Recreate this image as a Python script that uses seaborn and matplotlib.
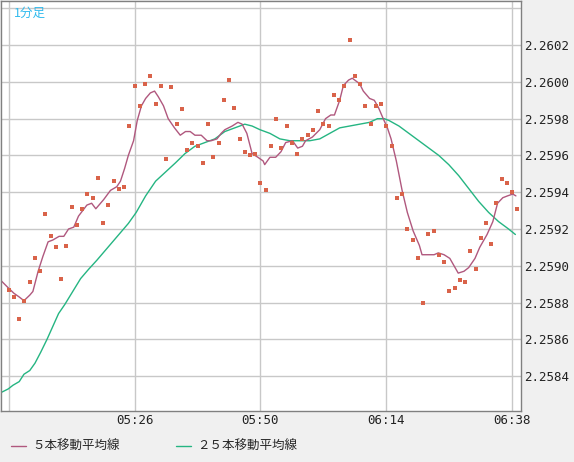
import matplotlib
matplotlib.use("Agg")
import matplotlib.pyplot as plt
import seaborn as sns
import numpy as np
import pandas as pd

sns.set_style("white")
plt.rcParams['font.family'] = ['Noto Sans CJK JP', 'DejaVu Sans']

# minutes since 05:02, one close per minute
close_prices = [
    2.25887, 2.25883, 2.25871, 2.25881, 2.25891, 2.25904, 2.25897, 2.25928, 2.25916, 2.25910,
    2.25893, 2.25911, 2.25932, 2.25922, 2.25931, 2.25939, 2.25937, 2.25948, 2.25923, 2.25933,
    2.25946, 2.25942, 2.25943, 2.25976, 2.25998, 2.25987, 2.25999, 2.26003, 2.25988, 2.25998,
    2.25958, 2.25997, 2.25977, 2.25985, 2.25963, 2.25967, 2.25965, 2.25956, 2.25977, 2.25959,
    2.25967, 2.25990, 2.26001, 2.25986, 2.25969, 2.25962, 2.25960, 2.25961, 2.25945, 2.25941,
    2.25965, 2.25980, 2.25964, 2.25976, 2.25967, 2.25961, 2.25969, 2.25971, 2.25974, 2.25984,
    2.25977, 2.25976, 2.25993, 2.25990, 2.25998, 2.26023, 2.26003, 2.25999, 2.25987, 2.25977,
    2.25987, 2.25988, 2.25976, 2.25965, 2.25937, 2.25939, 2.25920, 2.25914, 2.25904, 2.25880,
    2.25917, 2.25919, 2.25906, 2.25902, 2.25886, 2.25888, 2.25892, 2.25891, 2.25908, 2.25898,
    2.25915, 2.25923, 2.25912, 2.25934, 2.25947, 2.25945, 2.25940, 2.25931,
]
close_minutes = list(range(len(close_prices)))

ma5_minutes = [
    -1.5, -0.1, 1.0, 2.0, 2.9, 4.0, 4.6, 5.6, 6.5, 7.5, 8.4, 9.6, 10.5, 11.4, 12.4, 13.3,
    14.9, 15.8, 16.6, 18.1, 19.4, 20.6, 21.3, 22.1, 22.8, 23.8, 24.5, 25.3, 26.1, 27.0,
    27.8, 28.5, 29.5, 30.4, 31.6, 32.7, 33.7, 34.6, 35.5, 36.7, 37.8, 38.6, 39.7, 40.5,
    41.2, 42.6, 43.7, 44.5, 45.4, 46.4, 47.5, 48.5, 48.8, 49.8, 50.9, 51.9, 52.8, 54.1,
    55.1, 56.0, 56.6, 57.9, 59.3, 60.4, 61.4, 62.1, 63.1, 63.8, 64.8, 65.5, 66.9, 67.6,
    68.8, 69.7, 70.5, 71.4, 72.2, 72.9, 73.9, 75.0, 76.0, 77.1, 78.3, 78.8, 80.2, 81.1,
    81.9, 83.0, 84.1, 85.1, 85.7, 86.8, 87.7, 88.9, 89.8, 91.2, 92.3, 93.2, 94.2, 95.1,
    96.1, 96.7,
]
ma5_prices = [
    2.25892, 2.25888, 2.25885, 2.25883, 2.25881, 2.25884, 2.25886, 2.25897, 2.25905, 2.25913,
    2.25914, 2.25916, 2.25916, 2.25920, 2.25921, 2.25927, 2.25933, 2.25934, 2.25931, 2.25936,
    2.25941, 2.25943, 2.25946, 2.25953, 2.25960, 2.25968, 2.25979, 2.25987, 2.25991, 2.25994,
    2.25995, 2.25992, 2.25987, 2.25980, 2.25975, 2.25971, 2.25973, 2.25973, 2.25971, 2.25971,
    2.25968, 2.25968, 2.25969, 2.25972, 2.25974, 2.25976, 2.25978, 2.25977, 2.25972, 2.25961,
    2.25959, 2.25957, 2.25955, 2.25959, 2.25959, 2.25962, 2.25967, 2.25968, 2.25964, 2.25965,
    2.25968, 2.25970, 2.25974, 2.25980, 2.25982, 2.25982, 2.25990, 2.25998, 2.26001, 2.26002,
    2.25999, 2.25995, 2.25991, 2.25990, 2.25986, 2.25980, 2.25975, 2.25969, 2.25957, 2.25941,
    2.25929, 2.25919, 2.25911, 2.25906, 2.25906, 2.25906, 2.25907, 2.25906, 2.25904, 2.25899,
    2.25896, 2.25897, 2.25899, 2.25904, 2.25910, 2.25917, 2.25924, 2.25934, 2.25937, 2.25938,
    2.25939, 2.25938,
]

ma25_minutes = [
    -1.5, -0.1, 0.8, 2.0, 2.9, 4.0, 5.0, 6.1, 7.3, 8.4, 9.5, 10.7, 12.2, 13.7, 15.2, 16.8,
    18.3, 19.8, 21.3, 22.8, 24.3, 26.1, 28.0, 29.9, 31.8, 33.6, 35.5, 37.4, 39.3, 41.2,
    43.1, 45.0, 46.4, 47.9, 49.8, 51.7, 53.6, 55.5, 57.4, 59.3, 61.2, 63.1, 65.0, 66.9,
    68.8, 70.3, 71.6, 72.5, 74.4, 76.3, 78.2, 80.1, 82.0, 83.9, 85.8, 87.7, 89.6, 91.5,
    93.4, 95.3, 96.6,
]
ma25_prices = [
    2.25831, 2.25833, 2.25835, 2.25837, 2.25841, 2.25843, 2.25847, 2.25853, 2.25860, 2.25867,
    2.25874, 2.25879, 2.25886, 2.25893, 2.25898, 2.25903, 2.25908, 2.25913, 2.25918, 2.25923,
    2.25929, 2.25938, 2.25946, 2.25951, 2.25956, 2.25961, 2.25965, 2.25967, 2.25969, 2.25973,
    2.25975, 2.25977, 2.25976, 2.25974, 2.25972, 2.25969, 2.25968, 2.25968, 2.25968, 2.25969,
    2.25972, 2.25975, 2.25976, 2.25977, 2.25978, 2.25980, 2.25980, 2.25979, 2.25976, 2.25972,
    2.25968, 2.25964, 2.25960, 2.25955, 2.25949, 2.25942, 2.25935, 2.25929, 2.25924, 2.25920,
    2.25917,
]

y_ticks = [2.2584, 2.2586, 2.2588, 2.2590, 2.2592, 2.2594, 2.2596, 2.2598, 2.2600, 2.2602, 2.2604]
y_labels = ["2.2584", "2.2586", "2.2588", "2.2590", "2.2592", "2.2594", "2.2596", "2.2598", "2.2600", "2.2602", ""]
x_ticks = [0, 24, 48, 72, 96]
x_labels = ["", "05:26", "05:50", "06:14", "06:38"]

fig = plt.figure(figsize=(5.74, 4.62), dpi=100, facecolor="#f0f0f0")
ax = fig.add_axes([0.002, 51 / 462, 520 / 574, 410 / 462])
ax.set_facecolor("white")

sns.lineplot(x=ma25_minutes, y=ma25_prices, ax=ax, color="#25b582", lw=1, sort=False,
             label="２５本移動平均線")
sns.lineplot(x=ma5_minutes, y=ma5_prices, ax=ax, color="#b0587e", lw=1, sort=False,
             label="５本移動平均線")
sns.scatterplot(x=close_minutes, y=close_prices, ax=ax, color="#d9634a", marker="s",
                s=10, linewidth=0, zorder=5)

ax.set_xlim(-1.45, 97.7)
ax.set_ylim(2.25821, 2.26044)
ax.set_yticks(y_ticks)
ax.set_yticklabels(y_labels)
ax.set_xticks(x_ticks)
ax.set_xticklabels(x_labels)
ax.yaxis.tick_right()
ax.tick_params(axis="both", length=0, labelsize=9, colors="#222222", pad=2)
for lbl in ax.get_yticklabels() + ax.get_xticklabels():
    lbl.set_family(["DejaVu Sans Mono", "DejaVu Sans"])
ax.grid(True, color="#c8c8c8", lw=1)
for sp in ax.spines.values():
    sp.set_color("#808080")
    sp.set_linewidth(1)

ax.text(0.025, 0.985, "1分足", transform=ax.transAxes, color="#33bbee", fontsize=9, va="top")

handles, labels = ax.get_legend_handles_labels()
ax.legend_.remove()
fig.legend(handles[::-1], labels[::-1], loc="lower left", bbox_to_anchor=(0.0, -0.005), ncol=2,
           frameon=False, fontsize=9, handlelength=1.2, columnspacing=4.5, handletextpad=0.5)

fig.savefig("out.png", dpi=100, facecolor=fig.get_facecolor())
